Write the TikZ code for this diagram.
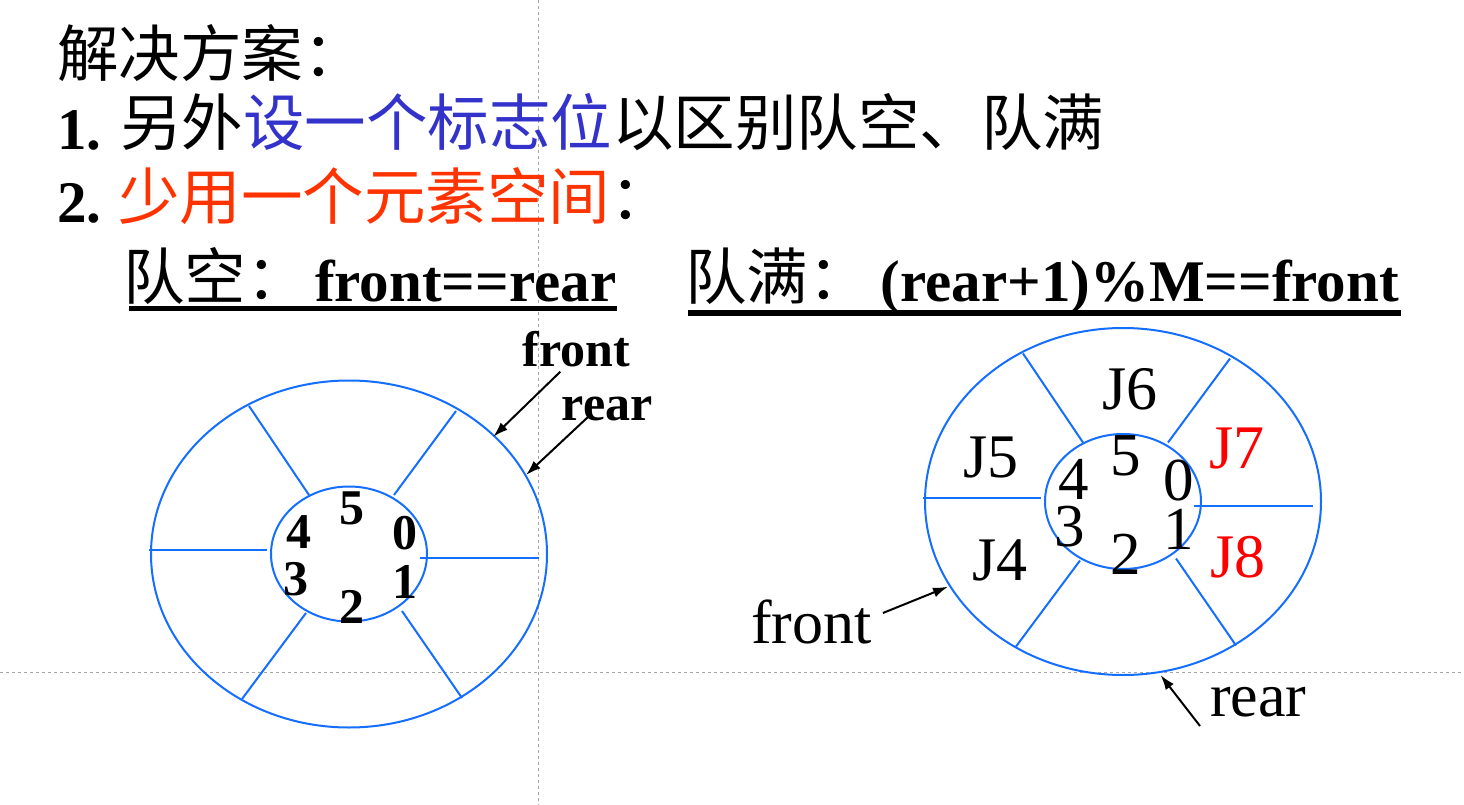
\documentclass[tikz,border=0pt]{standalone}
\usepackage{fontspec}
\setmainfont{Liberation Serif}
\newfontfamily\cjk{Noto Sans CJK SC}
\usetikzlibrary{arrows.meta}

\definecolor{ringblue}{RGB}{20,110,255}
\definecolor{markblue}{RGB}{51,51,204}
\definecolor{markred}{RGB}{255,51,0}

\tikzset{
  ring/.style={draw=ringblue, line width=2pt},
  pointer/.style={-{Latex[length=15pt,width=10pt]}, line width=2pt},
  guide/.style={gray!70, line width=0.8pt, dash pattern=on 3pt off 3pt},
  txt/.style={anchor=base west, inner sep=0pt},
  cjktext/.style={txt, font=\cjk\fontsize{61.5}{70}\selectfont},
  formula/.style={txt, font=\bfseries\fontsize{59}{70}\selectfont},
  tag/.style={txt, font=\bfseries\fontsize{50}{60}\selectfont},
  plaintag/.style={txt, font=\fontsize{62}{70}\selectfont},
  numL/.style={inner sep=0pt, font=\bfseries\fontsize{50}{60}\selectfont},
  numR/.style={inner sep=0pt, font=\fontsize{61}{70}\selectfont},
  slot/.style={inner sep=0pt, font=\fontsize{62}{70}\selectfont},
}

\begin{document}
\begin{tikzpicture}[x=1pt, y=-1pt]
  \fill[white] (0,0) rectangle (1464,805);
  \useasboundingbox (0,0) rectangle (1464,805);
  % guide lines
  \draw[guide] (538,0) -- (538,805);
  \draw[guide] (0,672.5) -- (1464,672.5);

  % text lines
  \node[cjktext] (title) at (57,77) {解决方案：};
  \node[formula] (num1) at (57,149.3) {1.};
  \node[cjktext] (way1) at (120,146) {另外\textcolor{markblue}{设一个标志位}以区别队空、队满};
  \node[formula] (num2) at (57,222.7) {2.};
  \node[cjktext] (way2) at (118,220) {\textcolor{markred}{少用一个元素空间}：};
  \node[cjktext] (empty) at (123,299) {队空：};
  \node[formula] (emptyexpr) at (315,301.7) {front==rear};
  \node[cjktext] (full) at (685,299) {队满：};
  \node[formula, anchor=base east] (fullexpr) at (1399,301.7) {(rear+1)\%M==front};
  \draw[line width=4.7pt] (129,308.5) -- (617,308.5);
  \draw[line width=5.5pt] (688,313) -- (1401,313);

  % the two rings
  \foreach \r/\cx/\cy in {L/349/554, R/1123/501.5} {
    \begin{scope}[shift={(\cx,\cy)}]
      \draw[ring] (0,0) ellipse [x radius=198, y radius=173.5];
      \draw[ring] (0,0) ellipse [x radius=78, y radius=67.5];
      \foreach \ax/\ay/\bx/\by in {-40/-59/-100/-148, 45/-59/107/-143, -82/-4/-200/-4,
                                   71/4.2/190/4.2, -43/59/-107/145, 53/57/113/144}
        \draw[ring] (\ax,\ay) -- (\bx,\by);
    \end{scope}
  }

  % slot numbers
  \foreach \d/\dx/\dy in {0/56/-20.5, 1/56/28, 2/3/53, 3/-53.3/25, 4/-49.7/-21.7, 5/3/-45.7} {
    \node[numL] (L\d) at ([shift={(\dx,\dy)}]349,554) {\d};
    \node[numR] (R\d) at ([shift={(\dx,\dy)}]1123,501.5) {\d};
  }

  % elements
  \node[slot] (J4) at (1000,560) {J4};
  \node[slot] (J5) at (991,457.3) {J5};
  \node[slot] (J6) at (1130,389) {J6};
  \node[slot, text=red] (J7) at (1236.7,448.3) {J7};
  \node[slot, text=red] (J8) at (1238.3,557.3) {J8};

  % pointers, empty queue
  \node[tag] (lfront) at (522.3,366.7) {front};
  \node[tag] (lrear) at (561.7,420) {rear};
  \coordinate (lfronttip) at (493.3,436.7);
  \coordinate (lreartip) at (526,475);
  \draw[pointer] ([xshift=38pt,yshift=-5pt]lfront.base west) -- (lfronttip);
  \draw[pointer] ([xshift=26.6pt,yshift=3.3pt]lrear.base west) -- (lreartip);

  % pointers, full queue
  \node[plaintag] (rfront) at (751,643) {front};
  \node[plaintag] (rrear) at (1210,716.7) {rear};
  \coordinate (rfronttip) at (948,586.7);
  \coordinate (rreartip) at (1160.5,675);
  \draw[pointer] ([xshift=11pt,yshift=30pt]rfront.base east) -- (rfronttip);
  \draw[pointer] ([xshift=-10pt,yshift=-9.3pt]rrear.base west) -- (rreartip);
\end{tikzpicture}
\end{document}
